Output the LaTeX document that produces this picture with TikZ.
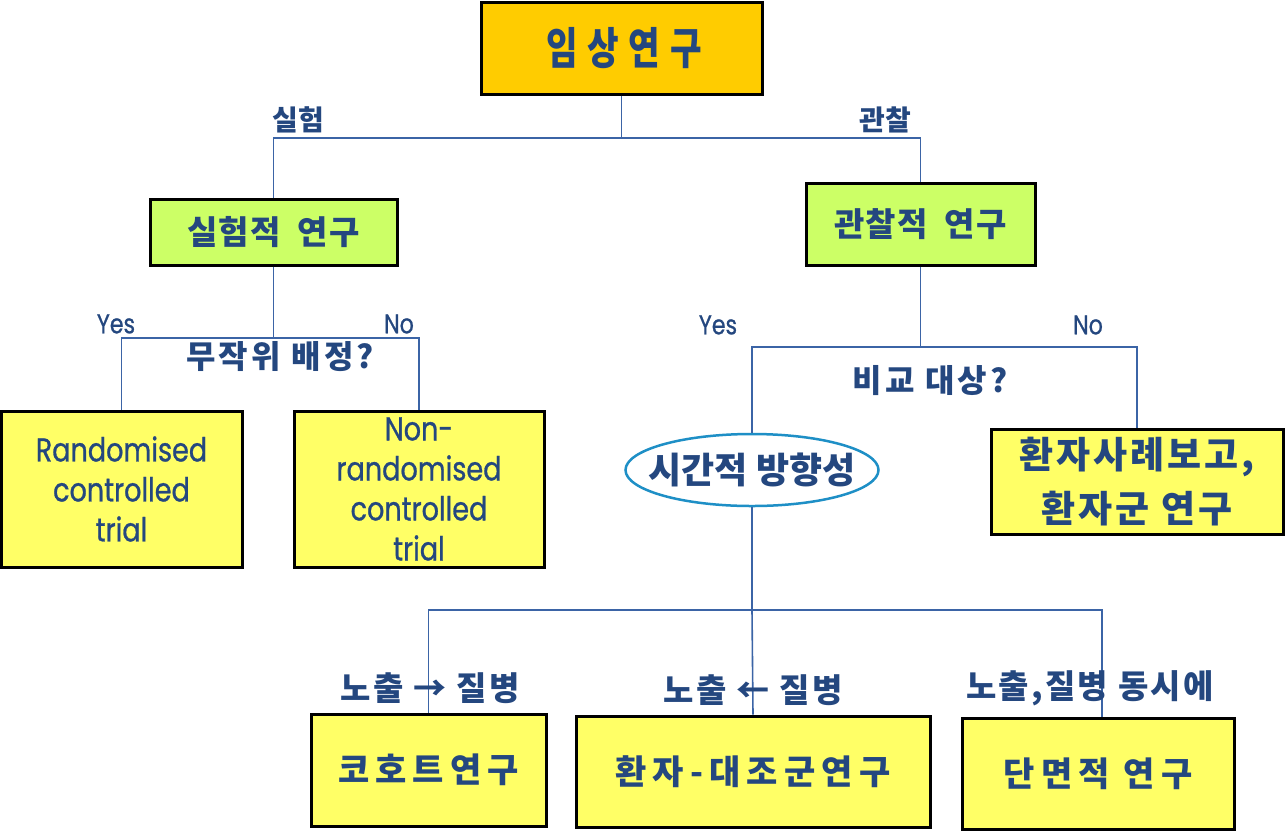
\documentclass[tikz,border=0pt]{standalone}
\usepackage{fontspec}
\setmainfont{Noto Sans CJK KR}
\newfontfamily\krfont{Noto Sans CJK KR}
\newfontfamily\krtitle[FakeStretch=0.78,LetterSpace=22]{Noto Sans CJK KR}
\newfontfamily\enfont[FakeStretch=0.82,FakeBold=0.8]{Poppins}
\usetikzlibrary{positioning,shapes.geometric}
\definecolor{inkblue}{HTML}{24477F}
\definecolor{linkblue}{HTML}{3B64A6}
\definecolor{ovalblue}{HTML}{1E8FC6}
\definecolor{topgold}{HTML}{FFCC00}
\definecolor{limefill}{HTML}{CCFF66}
\definecolor{lemonfill}{HTML}{FFFF66}
\tikzset{
  studybox/.style={
    draw=black,
    line width=3pt,
    align=center,
    inner sep=2pt,
    text=inkblue
  },
  leafbox/.style={
    studybox,
    fill=lemonfill,
    font=\krfont\bfseries\addfontfeature{LetterSpace=18}\fontsize{34}{38}\selectfont
  },
  trialbox/.style={
    studybox,
    fill=lemonfill,
    minimum height=156,
    font=\enfont\fontsize{33}{40}\selectfont
  },
  branch/.style={line width=1.6pt,draw=linkblue},
  branchlabel/.style={
    text=inkblue,
    inner sep=1pt,
    font=\krfont\bfseries\fontsize{28}{30}\selectfont
  },
  yesno/.style={
    text=inkblue,
    inner sep=1pt,
    font=\enfont\fontsize{27}{30}\selectfont
  },
  question/.style={
    text=inkblue,
    inner sep=1pt,
    font=\krfont\bfseries\addfontfeature{LetterSpace=10}\fontsize{32}{34}\selectfont
  },
  timelabel/.style={
    text=inkblue,
    inner sep=1pt,
    font=\krfont\bfseries\addfontfeature{LetterSpace=7}\fontsize{33}{35}\selectfont
  }
}
\begin{document}
\begin{tikzpicture}[x=1pt,y=-1pt]
  \useasboundingbox[fill=white] (0,0) rectangle (1285,831);

  \node[studybox,fill=topgold,minimum width=281,minimum height=92,
    font=\krtitle\bfseries\fontsize{44}{48}\selectfont] (clinical) at (621.5,48) {\hspace*{5pt}임상연구};

  \node[studybox,fill=limefill,minimum width=247,minimum height=66,
    font=\krfont\bfseries\addfontfeature{LetterSpace=3}\fontsize{33}{36}\selectfont] (expt) at (273.5,232) {실험적~ 연구};
  \node[studybox,fill=limefill,minimum width=229,minimum height=82,
    font=\krfont\bfseries\addfontfeature{LetterSpace=3}\fontsize{33}{36}\selectfont] (obs) at (920.5,224) {관찰적~ 연구};

  \node[trialbox,minimum width=241] (rct) at (121.5,489) {Randomised\\controlled\\trial};
  \node[trialbox,minimum width=250] (nrct) at (419,489) {Non-\\randomised\\controlled\\trial};

  \node[ellipse,draw=ovalblue,line width=2.5pt,fill=white,text=inkblue,
    minimum width=253,minimum height=72,inner xsep=-16pt,inner ysep=0pt,
    font=\krfont\bfseries\fontsize{36}{40}\selectfont] (timing) at (752,470) {시간적 방향성};
  \node[studybox,fill=lemonfill,minimum width=292,minimum height=105,
    font=\krfont\bfseries\addfontfeature{LetterSpace=8}\fontsize{37}{54}\selectfont] (casereport) at (1137,481.5) {환자사례보고,\\환자군 연구};

  \node[leafbox,minimum width=235,minimum height=112] (cohort) at (428.5,770) {코호트연구};
  \node[leafbox,minimum width=354,minimum height=111] (casecontrol) at (753,771.5) {환자-대조군연구};
  \node[leafbox,minimum width=272,minimum height=111] (crosssec) at (1098,773.5) {단면적 연구};

  \coordinate (topsplit) at (621.5,138);
  \coordinate (randsplit) at (273.5,338);
  \coordinate (compsplit) at (920.5,347);
  \coordinate (timesplit) at (752,610);
  \coordinate (crosstap) at (1102,610);

  \draw[branch] (clinical.south) -- (topsplit) -| (expt.north);
  \draw[branch] (topsplit) -| (obs.north);
  \draw[branch] (expt.south) -- (randsplit) -| (rct.north);
  \draw[branch] (randsplit) -| (nrct.north);
  \draw[branch] (obs.south) -- (compsplit) -| (timing.north);
  \draw[branch] (compsplit) -| (casereport.north);
  \draw[branch] (timing.south) -- (timesplit) -| (cohort.north);
  \draw[branch] (timesplit) -- (casecontrol.north);
  \draw[branch] (timesplit) -- (crosstap) -- (crosstap |- crosssec.north);

  \node[branchlabel] (exptlabel) at (298,120) {실험};
  \node[branchlabel] (obslabel) at (885,120) {관찰};
  \node[yesno] (randyes) at (116,324) {Yes};
  \node[yesno] (randno) at (399,324) {No};
  \node[question] (randq) at (280,357) {무작위 배정?};
  \node[yesno] (compyes) at (718,325) {Yes};
  \node[yesno] (compno) at (1088,325) {No};
  \node[question] (compq) at (930,381) {비교 대상?};
  \node[timelabel] (forward) at (430,688) {노출 → 질병};
  \node[timelabel] (backward) at (753,690) {노출 ← 질병};
  \node[timelabel] (sametime) at (1090,688) {노출,질병 동시에};
\end{tikzpicture}
\end{document}
